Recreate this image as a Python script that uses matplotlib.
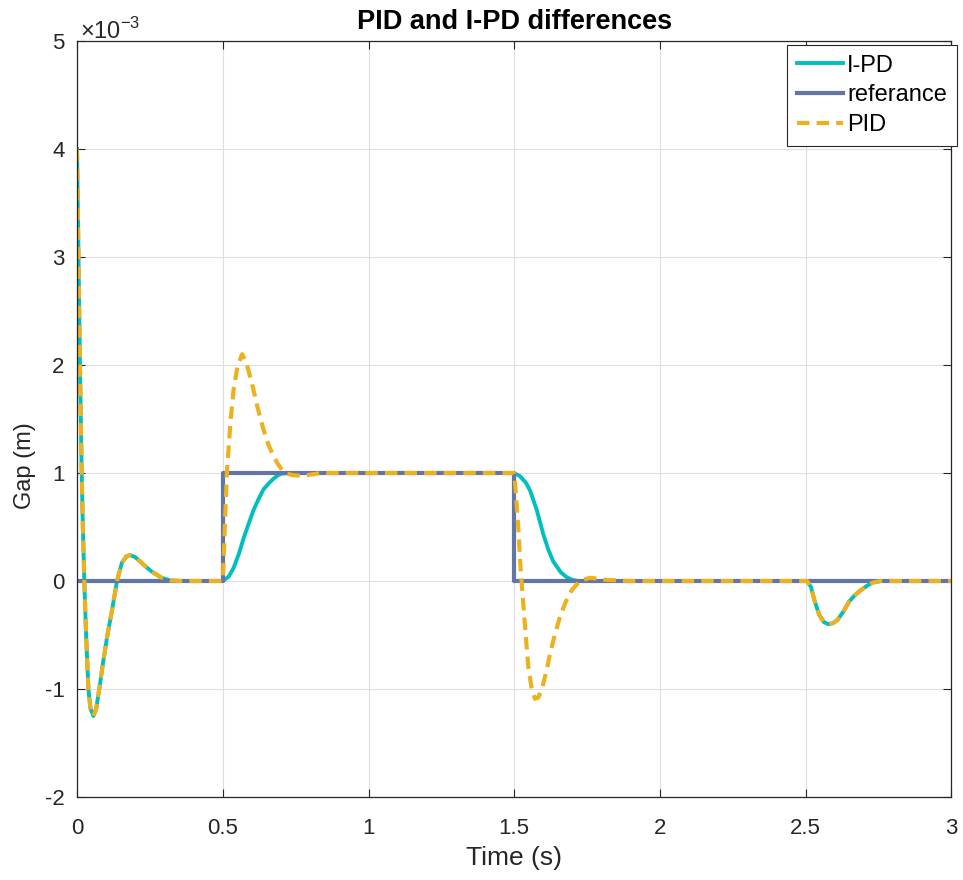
import matplotlib
matplotlib.use("Agg")
import matplotlib.pyplot as plt
from matplotlib.ticker import FixedLocator

plt.rcParams['font.family'] = ['Liberation Sans', 'DejaVu Sans']
plt.rcParams['mathtext.fontset'] = 'custom'
plt.rcParams['mathtext.rm'] = 'Liberation Sans'

# ---- data (gap values in units of 1e-3 m) ----
ipd_t = [0, 0.003, 0.005, 0.010, 0.016, 0.020, 0.025, 0.031, 0.039, 0.046, 0.056,
         0.066, 0.079, 0.089, 0.103, 0.120, 0.137, 0.154, 0.170, 0.183, 0.200,
         0.217, 0.237, 0.257, 0.290, 0.320, 0.360, 0.500,
         0.520, 0.537, 0.555, 0.572, 0.590, 0.606, 0.623, 0.640, 0.660, 0.675,
         0.690, 0.703, 0.730, 1.500,
         1.520, 1.540, 1.554, 1.577, 1.600, 1.617, 1.634, 1.660, 1.680, 1.700,
         1.720, 2.505,
         2.518, 2.530, 2.546, 2.562, 2.578, 2.594, 2.609, 2.630, 2.649, 2.669,
         2.689, 2.710, 2.729, 2.757, 3.000]
ipd_y = [4.0, 3.4, 3.0, 2.0, 1.0, 0.5, 0.0, -0.5, -1.0, -1.18, -1.25,
         -1.18, -0.95, -0.76, -0.52, -0.27, 0.0, 0.17, 0.23, 0.24, 0.22,
         0.18, 0.13, 0.086, 0.03, 0.005, 0.0, 0.0,
         0.04, 0.12, 0.25, 0.40, 0.54, 0.66, 0.76, 0.85, 0.91, 0.95,
         0.98, 0.995, 1.0, 1.0,
         0.97, 0.91, 0.84, 0.66, 0.43, 0.29, 0.18, 0.08, 0.035, 0.01,
         0.0, 0.0,
         -0.055, -0.18, -0.31, -0.38, -0.40, -0.39, -0.36, -0.28, -0.19, -0.13,
         -0.085, -0.045, -0.015, 0.0, 0.0]

ref_t = [0, 0.5, 0.5, 1.5, 1.5, 3.0]
ref_y = [0, 0, 1, 1, 0, 0]

pid_t = [0, 0.003, 0.005, 0.010, 0.016, 0.020, 0.025, 0.031, 0.039, 0.046, 0.056,
         0.066, 0.079, 0.089, 0.103, 0.120, 0.137, 0.154, 0.170, 0.183, 0.200,
         0.217, 0.237, 0.257, 0.290, 0.320, 0.360, 0.500,
         0.503, 0.507, 0.514, 0.526, 0.537, 0.550, 0.566, 0.580, 0.600, 0.620,
         0.640, 0.657, 0.675, 0.690, 0.703, 0.720, 0.740, 0.778, 0.835, 1.500,
         1.506, 1.515, 1.520, 1.525, 1.537, 1.548, 1.560, 1.571, 1.582, 1.594,
         1.610, 1.623, 1.640, 1.657, 1.677, 1.697, 1.725, 1.760, 1.817, 1.900,
         2.505,
         2.518, 2.530, 2.546, 2.562, 2.578, 2.594, 2.609, 2.630, 2.649, 2.669,
         2.689, 2.710, 2.729, 2.757, 3.000]
pid_y = [4.0, 3.4, 3.0, 2.0, 1.0, 0.5, 0.0, -0.5, -1.0, -1.18, -1.25,
         -1.18, -0.95, -0.76, -0.52, -0.27, 0.0, 0.17, 0.23, 0.24, 0.22,
         0.18, 0.13, 0.086, 0.03, 0.005, 0.0, 0.0,
         0.2, 0.5, 1.0, 1.46, 1.77, 1.98, 2.10, 2.03, 1.83, 1.60,
         1.40, 1.26, 1.15, 1.08, 1.03, 0.995, 0.98, 0.975, 1.0, 1.0,
         0.8, 0.45, 0.19, 0.0, -0.42, -0.79, -1.0, -1.09, -1.08, -1.01,
         -0.84, -0.67, -0.49, -0.33, -0.19, -0.085, 0.0, 0.03, 0.01, 0.0,
         0.0,
         -0.055, -0.18, -0.31, -0.38, -0.40, -0.39, -0.36, -0.28, -0.19, -0.13,
         -0.085, -0.045, -0.015, 0.0, 0.0]

x_ticks = [0, 0.5, 1, 1.5, 2, 2.5, 3]
x_ticklabels = ['0', '0.5', '1', '1.5', '2', '2.5', '3']
y_ticks = [-2, -1, 0, 1, 2, 3, 4, 5]
y_ticklabels = ['-2', '-1', '0', '1', '2', '3', '4', '5']

# ---- figure ----
fig = plt.figure(figsize=(9.63, 8.8), dpi=100)
ax = fig.add_axes([0.080, 0.0943, 0.908, 0.8591])

c_ipd = '#00BFBF'
c_ref = '#6176A6'
c_pid = '#EDB120'
ax.plot(ipd_t, ipd_y, color=c_ipd, lw=2.8, label='I-PD', solid_joinstyle='round')
ax.plot(ref_t, ref_y, color=c_ref, lw=3.0, label='referance')
ax.plot(pid_t, pid_y, color=c_pid, lw=3.0, ls=(0, (3.0, 1.7)), label='PID')

ax.set_xlim(0, 3)
ax.set_ylim(-2, 5)
ax.xaxis.set_major_locator(FixedLocator(x_ticks))
ax.set_xticklabels(x_ticklabels)
ax.yaxis.set_major_locator(FixedLocator(y_ticks))
ax.set_yticklabels(y_ticklabels)

axc = '#262626'
for s in ax.spines.values():
    s.set_color(axc)
    s.set_linewidth(0.9)
ax.tick_params(direction='in', length=6, width=0.8, colors=axc, labelsize=16,
               top=True, right=True)
ax.tick_params(axis='x', pad=15)
ax.tick_params(axis='y', pad=9)
ax.grid(True, color='#DEDEDE', lw=0.8)
ax.set_axisbelow(True)

ax.set_xlabel('Time (s)', fontsize=19, color=axc, labelpad=5)
ax.set_ylabel('Gap (m)', fontsize=17, color=axc)
ax.yaxis.set_label_coords(-0.047, 0.438)
ax.set_title('PID and I-PD differences', fontsize=19.5, fontweight='bold', color='black', pad=9)
ax.text(0.003, 0.996, r'×10$^{\mathregular{-3}}$', transform=ax.transAxes,
        fontsize=17, color=axc, ha='left', va='bottom')

leg = ax.legend(loc='upper right', bbox_to_anchor=(1.006, 0.995), borderaxespad=0,
                fontsize=17, frameon=True, fancybox=False, framealpha=1,
                edgecolor=axc, handlelength=1.95, handletextpad=0.15,
                labelspacing=0.33, borderpad=0.42)
leg.get_frame().set_linewidth(0.8)

fig.savefig('out.png', dpi=100)
